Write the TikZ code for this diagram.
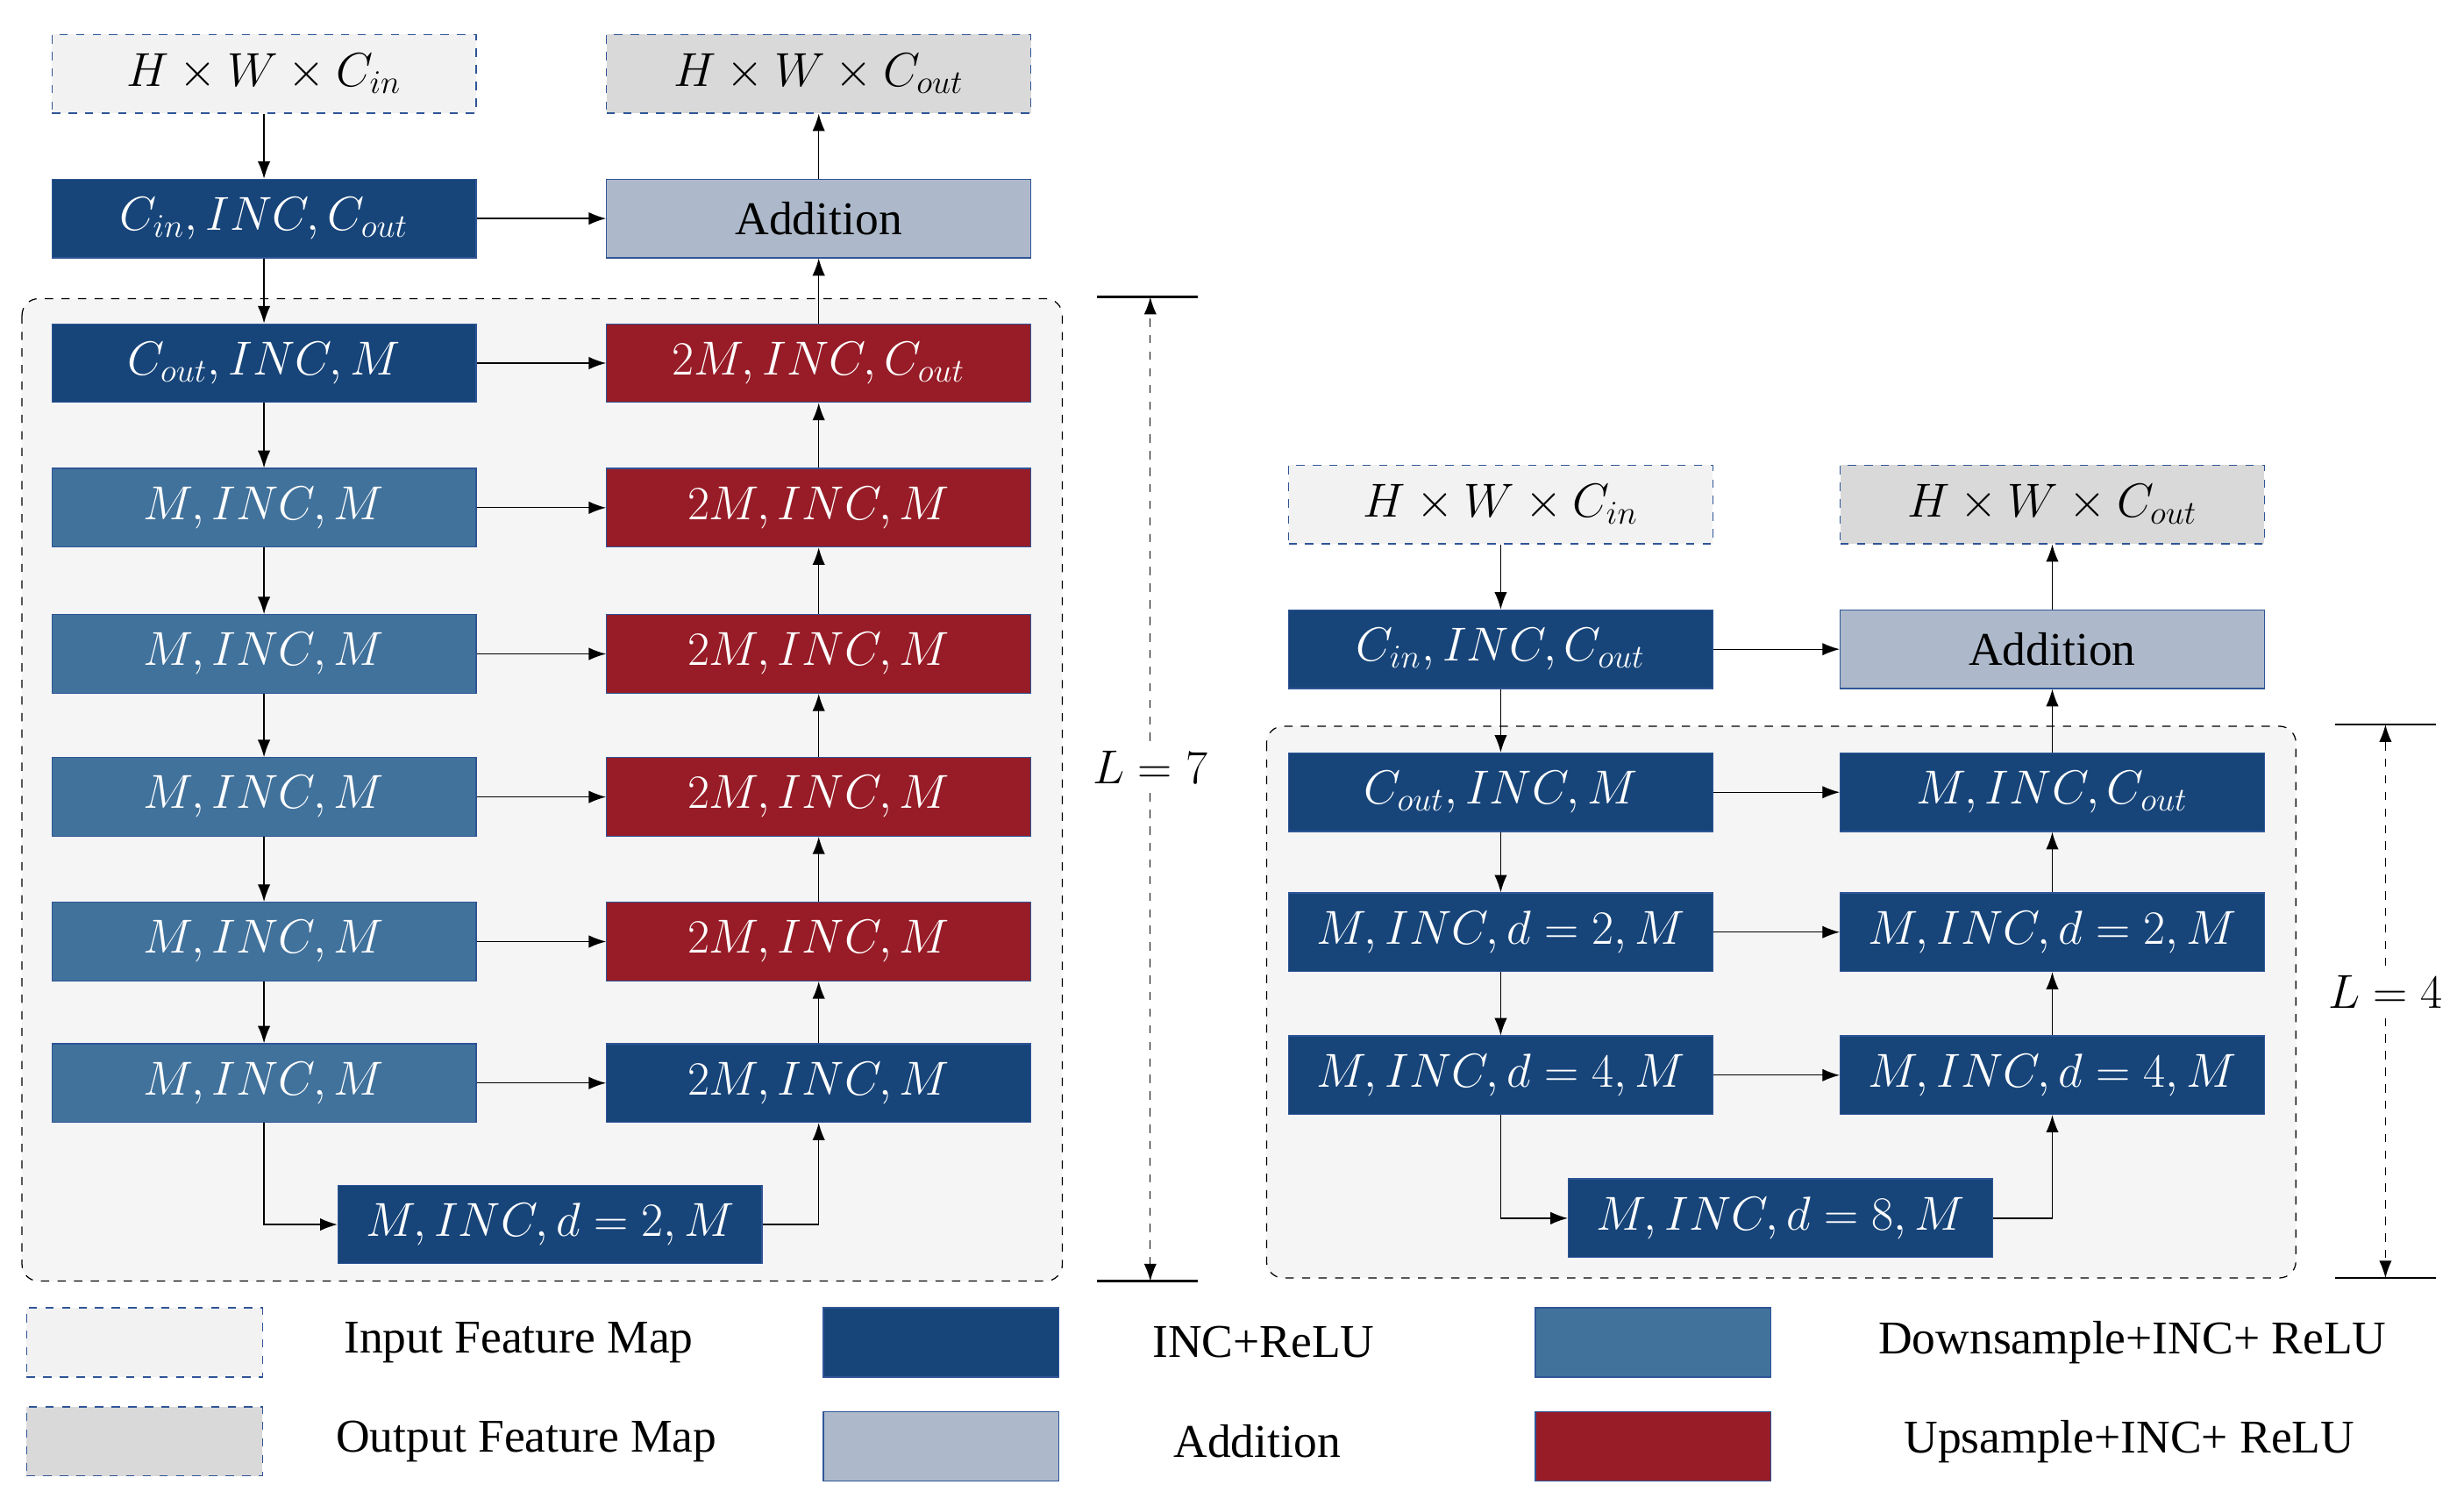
\documentclass[tikz,border=0pt]{standalone}
\usepackage{fontspec}
\setmainfont{Liberation Serif}
\usepackage{tikz}
\usetikzlibrary{calc,arrows.meta}
\definecolor{incblue}{HTML}{17457A}
\definecolor{downblue}{HTML}{41729C}
\definecolor{upred}{HTML}{971C27}
\definecolor{addgray}{HTML}{ADB9CA}
\definecolor{ingray}{HTML}{F2F2F2}
\definecolor{outgray}{HTML}{D9D9D9}
\definecolor{edgeblue}{HTML}{2F5597}
\tikzset{
  box/.style={minimum width=5.4cm, minimum height=1cm, inner sep=0pt, font=\fontsize{17}{20}\selectfont},
  inc/.style={box, fill=incblue, draw=edgeblue, text=white},
  down/.style={box, fill=downblue, draw=edgeblue, text=white},
  up/.style={box, fill=upred, draw=edgeblue, text=white},
  add/.style={box, fill=addgray, draw=edgeblue, text=black},
  fin/.style={box, fill=ingray, draw=edgeblue, dashed, text=black},
  fout/.style={box, fill=outgray, draw=edgeblue, dashed, text=black},
  arr/.style={-{Latex[length=2.2mm,width=1.6mm]}, thin},
  region/.style={draw, dashed, fill=ingray!80, rounded corners=6pt},
  legbox/.style={minimum width=3cm, minimum height=0.88cm, inner sep=0pt},
  legtext/.style={font=\fontsize{17}{20}\selectfont}
}
\begin{document}
\begin{tikzpicture}[x=0.02cm, y=-0.02cm]
    \useasboundingbox (0,0) rectangle (1568,958);

    % Left network (L = 7)
    \draw[region] (14,190) rectangle (676,815);
    \node[fin] (lin) at (168,47) {$H\times W\times C_{in}$};
    \node[fout] (lout) at (521,47) {$H\times W\times C_{out}$};
    \node[inc] (l1) at (168,139) {$C_{in},INC,C_{out}$};
    \node[add] (ladd) at (521,139) {Addition};
    \node[inc] (l2) at (168,231) {$C_{out},INC,M$};
    \node[up] (r2) at (521,231) {$2M,INC,C_{out}$};
    \foreach \i/\y in {3/323,4/416,5/507,6/599} {
        \node[down] (l\i) at (168,\y) {$M,INC,M$};
        \node[up] (r\i) at (521,\y) {$2M,INC,M$};
    }
    \node[down] (l7) at (168,689) {$M,INC,M$};
    \node[inc] (r7) at (521,689) {$2M,INC,M$};
    \node[inc] (lb) at (350,779) {$M,INC,d=2,M$};

    \draw[arr] (lin) -- (l1);
    \draw[arr] (l1) -- (ladd);
    \draw[arr] (ladd) -- (lout);
    \draw[arr] (r2) -- (ladd);
    \draw[arr] (l1) -- (l2);
    \foreach \i/\j in {2/3,3/4,4/5,5/6,6/7} {
        \draw[arr] (l\i) -- (l\j);
        \draw[arr] (r\j) -- (r\i);
    }
    \foreach \i in {2,...,7}
        \draw[arr] (l\i) -- (r\i);
    \draw[arr] (l7.south) |- (lb.west);
    \draw[arr] (lb.east) -| (r7.south);

    % Depth bracket L = 7
    \coordinate (lt) at (732,189);
    \coordinate (lbot) at (732,815);
    \draw[thick] (698,189) -- (762,189);
    \draw[thick] (698,815) -- (762,815);
    \node[fill=white, legtext] (ll) at (732,488) {$L=7$};
    \draw[arr, dashed] (ll) -- (lt);
    \draw[arr, dashed] (ll) -- (lbot);

    % Right network (L = 4)
    \draw[region] (806,462) rectangle (1461,813);
    \node[fin] (nin) at (955,321) {$H\times W\times C_{in}$};
    \node[fout] (nout) at (1306,321) {$H\times W\times C_{out}$};
    \node[inc] (n1) at (955,413) {$C_{in},INC,C_{out}$};
    \node[add] (nadd) at (1306,413) {Addition};
    \node[inc] (n2) at (955,504) {$C_{out},INC,M$};
    \node[inc] (m2) at (1306,504) {$M,INC,C_{out}$};
    \node[inc] (n3) at (955,593) {$M,INC,d=2,M$};
    \node[inc] (m3) at (1306,593) {$M,INC,d=2,M$};
    \node[inc] (n4) at (955,684) {$M,INC,d=4,M$};
    \node[inc] (m4) at (1306,684) {$M,INC,d=4,M$};
    \node[inc] (nb) at (1133,775) {$M,INC,d=8,M$};

    \draw[arr] (nin) -- (n1);
    \draw[arr] (n1) -- (nadd);
    \draw[arr] (nadd) -- (nout);
    \draw[arr] (m2) -- (nadd);
    \draw[arr] (n1) -- (n2);
    \foreach \i/\j in {2/3,3/4} {
        \draw[arr] (n\i) -- (n\j);
        \draw[arr] (m\j) -- (m\i);
    }
    \foreach \i in {2,3,4}
        \draw[arr] (n\i) -- (m\i);
    \draw[arr] (n4.south) |- (nb.west);
    \draw[arr] (nb.east) -| (m4.south);

    % Depth bracket L = 4
    \coordinate (nt) at (1518,461);
    \coordinate (nbot) at (1518,813);
    \draw[thick] (1486,461) -- (1550,461);
    \draw[thick] (1486,813) -- (1550,813);
    \node[fill=white, legtext] (nl) at (1518,631) {$L=4$};
    \draw[arr, dashed] (nl) -- (nt);
    \draw[arr, dashed] (nl) -- (nbot);

    % Legend
    \node[legbox, fill=ingray, draw=edgeblue, dashed] (kin) at (92,854) {};
    \node[legtext] (tin) at (330,854) {Input Feature Map};
    \node[legbox, fill=incblue, draw=edgeblue] (kinc) at (599,854) {};
    \node[legtext] (tinc) at (804,854) {INC+ReLU};
    \node[legbox, fill=downblue, draw=edgeblue] (kdown) at (1052,854) {};
    \node[legtext] (tdown) at (1357,854) {Downsample+INC+ ReLU};
    \node[legbox, fill=outgray, draw=edgeblue, dashed] (kout) at (92,917) {};
    \node[legtext] (tout) at (335,917) {Output Feature Map};
    \node[legbox, fill=addgray, draw=edgeblue] (kadd) at (599,920) {};
    \node[legtext] (tadd) at (800,917) {Addition};
    \node[legbox, fill=upred, draw=edgeblue] (kup) at (1052,920) {};
    \node[legtext] (tup) at (1355,917) {Upsample+INC+ ReLU};
\end{tikzpicture}
\end{document}
